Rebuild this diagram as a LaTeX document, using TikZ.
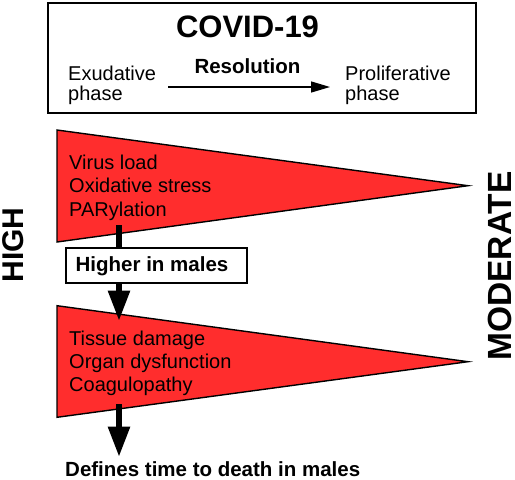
\documentclass[tikz,border=0pt]{standalone}
\usepackage{fontspec}
\setmainfont{Liberation Sans}
\usetikzlibrary{arrows.meta}
\definecolor{trired}{RGB}{255,45,45}
\begin{document}
\begin{tikzpicture}[x=1pt,y=-1pt,
  txt/.style={inner sep=0pt, anchor=base west, font=\fontsize{20}{24}\selectfont},
  btxt/.style={inner sep=0pt, font=\fontsize{20.5}{24}\selectfont\bfseries},
  side/.style={inner sep=0pt, rotate=90, font=\fontsize{30}{34}\selectfont\bfseries},
  wedge/.style={fill=trired, draw=black, line width=1.4pt, line join=miter},
  bigarrow/.style={line width=5.5pt, -{Triangle[width=21pt,length=30pt]}},
  shaft/.style={line width=5.5pt}
]
\useasboundingbox (0,0) rectangle (515,480);

% top box
\node (frame) [draw, line width=1.8pt, minimum width=428pt, minimum height=110pt, inner sep=0pt] at (262,58) {};
\node (covid) [inner sep=0pt, anchor=base, font=\fontsize{31}{34}\selectfont\bfseries] at (247.5,37) {COVID-19};
\node (res) [btxt, anchor=base] at (247.5,73) {Resolution};
\node (ex1) [txt] at (68,80) {Exudative};
\node (ex2) [txt] at (68,100) {phase};
\node (pr1) [txt] at (345,80) {Proliferative};
\node (pr2) [txt] at (345,100) {phase};
\coordinate (rs) at (168,87);
\coordinate (re) at (330,87);
\draw[line width=1.3pt, -{Triangle[width=11pt,length=19pt]}] (rs) -- (re);

% wedges
\filldraw[wedge] (57,130) -- (468,185.7) -- (57,242) -- cycle;
\filldraw[wedge] (57,305.7) -- (468,361.7) -- (57,417.3) -- cycle;

\node (v1) [txt] at (69,169.3) {Virus load};
\node (v2) [txt] at (69,192.7) {Oxidative stress};
\node (v3) [txt] at (69,216) {PARylation};

\node (t1) [txt] at (69,345) {Tissue damage};
\node (t2) [txt] at (69,368.3) {Organ dysfunction};
\node (t3) [txt] at (69,391.7) {Coagulopathy};

% higher in males box
\node (hm) [draw, line width=1.5pt, minimum width=181pt, minimum height=35pt, inner sep=0pt] at (156.5,265.5) {};
\node (hmt) [btxt, anchor=base] at (152,271.7) {Higher in males};

% bottom text
\node (def) [btxt, anchor=base west] at (65,476) {Defines time to death in males};

% arrows
\coordinate (w1) at (119,225);
\coordinate (w2) at (119,320.7);
\coordinate (w3s) at (119,404);
\coordinate (w3e) at (119,456.7);
\draw[shaft] (w1) -- (w1 |- hm.north);
\draw[bigarrow] (w1 |- hm.south) -- (w2);
\draw[bigarrow] (w3s) -- (w3e);

% side labels
\node (high) [side] at (13.5,245) {HIGH};
\node (mod) [side, font=\fontsize{33.5}{36}\selectfont\bfseries] at (499.5,266) {MODERATE};
\end{tikzpicture}
\end{document}
